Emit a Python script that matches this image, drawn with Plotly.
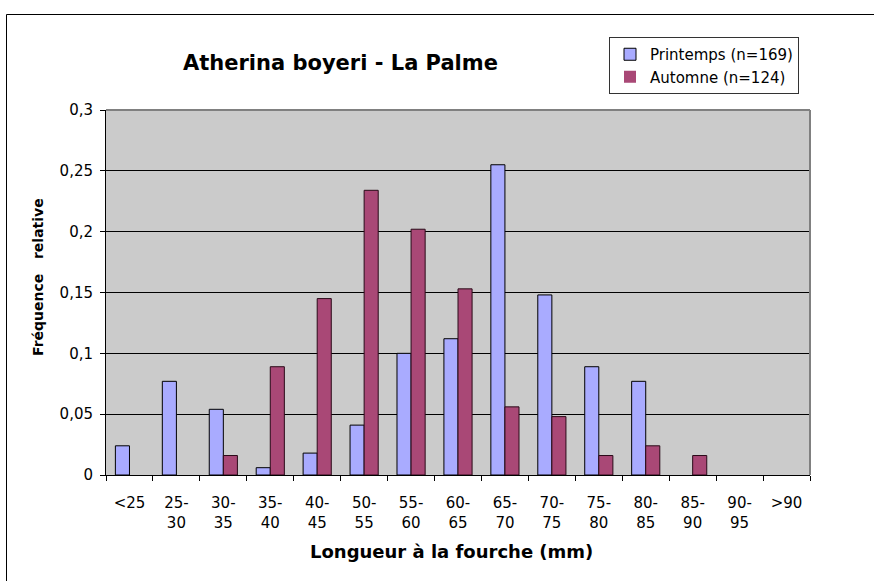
import plotly.graph_objects as go

categories = ["<25", "25-<br>30", "30-<br>35", "35-<br>40", "40-<br>45", "50-<br>55", "55-<br>60",
              "60-<br>65", "65-<br>70", "70-<br>75", "75-<br>80", "80-<br>85", "85-<br>90", "90-<br>95", ">90"]
printemps = [0.024, 0.077, 0.054, 0.006, 0.018, 0.041, 0.100, 0.112, 0.255, 0.148, 0.089, 0.077, 0, 0, 0]
automne = [0, 0, 0.016, 0.089, 0.145, 0.234, 0.202, 0.153, 0.056, 0.048, 0.016, 0.024, 0.016, 0, 0]
y_ticks = [0, 0.05, 0.1, 0.15, 0.2, 0.25, 0.3]

W, H = 874, 581
L, R, T, B = 106, 810, 110, 475
pw, ph = R - L, B - T

def px(x):
    return (x - L) / pw

def py(y):
    return (B - y) / ph

FONT = "DejaVu Sans"

def widths(vals):
    return [1 if v > 0 else 0 for v in vals]

fig = go.Figure()
fig.add_trace(go.Bar(x=categories, y=printemps, name="Printemps (n=169)",
                     marker=dict(color="#A9ABFF", line=dict(color="#000000", width=widths(printemps)))))
fig.add_trace(go.Bar(x=categories, y=automne, name="Automne (n=124)",
                     marker=dict(color="#A94876", line=dict(color="#2a0a18", width=widths(automne)))))

fig.update_layout(
    width=W, height=H,
    margin=dict(l=L, r=W - R, t=T, b=H - B, pad=0),
    paper_bgcolor="white",
    plot_bgcolor="#CBCBCB",
    separators=", ",
    barmode="group",
    bargap=0.4,
    bargroupgap=0,
    font=dict(family=FONT, size=15, color="black"),
    showlegend=True,
    legend=dict(x=px(609), y=py(37), xanchor="left", yanchor="top",
                bordercolor="#333333", borderwidth=1, bgcolor="white",
                font=dict(family=FONT, size=15), tracegroupgap=0,
                itemwidth=30),
    xaxis=dict(type="category", tickson="boundaries", ticks="outside", ticklen=5,
               tickcolor="black", showline=True, linecolor="black", linewidth=1,
               showgrid=False, tickfont=dict(family=FONT, size=15),
               ticklabelstandoff=14),
    yaxis=dict(range=[0, 0.3], tickvals=y_ticks, ticks="outside", ticklen=5,
               tickcolor="black", showline=True, linecolor="black", linewidth=1,
               showgrid=True, gridcolor="black", gridwidth=1, zeroline=False,
               tickfont=dict(family=FONT, size=15), ticklabelstandoff=4),
)

# plot area border (gray top/right)
fig.add_shape(type="line", xref="paper", yref="paper", x0=0, x1=1, y0=1, y1=1,
              line=dict(color="#808080", width=2))
fig.add_shape(type="line", xref="paper", yref="paper", x0=1, x1=1, y0=0, y1=1,
              line=dict(color="#808080", width=2))
# outer frame
fig.add_shape(type="rect", xref="paper", yref="paper",
              x0=px(6.5), x1=px(890), y0=py(600), y1=py(14.5),
              line=dict(color="black", width=1), layer="above")

fig.add_annotation(text="<b>Atherina boyeri - La Palme</b>", xref="paper", yref="paper",
                   x=px(340), y=py(63), xanchor="center", yanchor="middle", showarrow=False,
                   font=dict(family=FONT, size=21, color="black"))
fig.add_annotation(text="<b>Longueur à la fourche (mm)</b>", xref="paper", yref="paper",
                   x=px(451), y=py(551), xanchor="center", yanchor="middle", showarrow=False,
                   font=dict(family=FONT, size=18, color="black"))
fig.add_annotation(text="<b>Fréquence   relative</b>", xref="paper", yref="paper",
                   x=px(38), y=py(277), xanchor="center", yanchor="middle", showarrow=False,
                   textangle=-90, font=dict(family=FONT, size=14, color="black"))

fig.write_html("out.html", config={"displayModeBar": False},
               post_script="document.body.style.margin='0';")
